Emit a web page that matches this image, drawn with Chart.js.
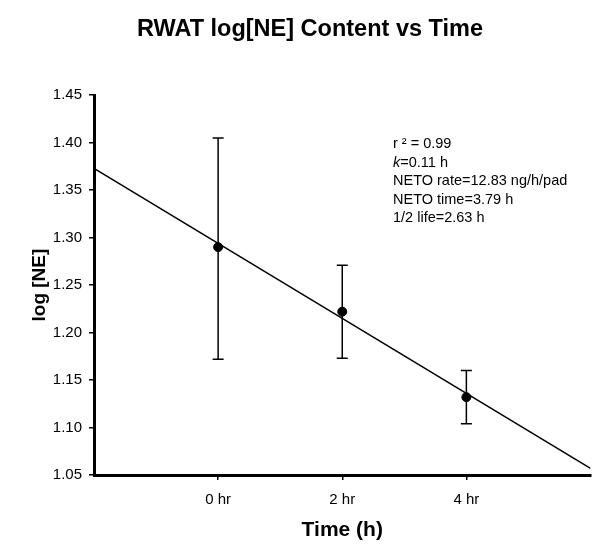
<!DOCTYPE html>
<html>
<head>
<meta charset="utf-8">
<script src="https://cdn.jsdelivr.net/npm/chart.js@4"></script>
<style>
  html, body { margin: 0; padding: 0; background: #fff; }
  #wrap { width: 596px; height: 550px; }
</style>
</head>
<body>
<div id="wrap"><canvas id="chart"></canvas></div>
<script>
// measured points (hours vs log[NE])
const times = [0, 2, 4];
const logNE = [1.290, 1.222, 1.132];
const errLow = [1.172, 1.173, 1.104];
const errHigh = [1.405, 1.271, 1.160];

// fitted line ends
const fitX = [-2, 6];
const fitY = [1.373, 1.057];

const xTicks = [0, 2, 4];
const yTicks = [1.05, 1.10, 1.15, 1.20, 1.25, 1.30, 1.35, 1.40, 1.45];

const notes = ['r \u00b2 = 0.99', 'k=0.11 h', 'NETO rate=12.83 ng/h/pad', 'NETO time=3.79 h', '1/2 life=2.63 h'];

const FONT = '"Liberation Sans", Arial, sans-serif';

const errorBars = {
    id: 'errorBars',
    afterDatasetsDraw(chart) {
        const ctx = chart.ctx;
        const xs = chart.scales.x, ys = chart.scales.y;
        ctx.save();
        ctx.strokeStyle = '#000';
        ctx.lineWidth = 1.5;
        times.forEach((t, i) => {
            const px = xs.getPixelForValue(t);
            const top = ys.getPixelForValue(errHigh[i]);
            const bot = ys.getPixelForValue(errLow[i]);
            ctx.beginPath();
            ctx.moveTo(px, top); ctx.lineTo(px, bot);
            ctx.moveTo(px - 5.5, top); ctx.lineTo(px + 5.5, top);
            ctx.moveTo(px - 5.5, bot); ctx.lineTo(px + 5.5, bot);
            ctx.stroke();
        });
        ctx.restore();
    }
};

const notesPlugin = {
    id: 'notes',
    afterDraw(chart) {
        const ctx = chart.ctx;
        const a = chart.chartArea;
        ctx.save();
        ctx.fillStyle = '#000';
        ctx.textBaseline = 'middle';
        const x = a.left + 299;
        notes.forEach((s, i) => {
            const y = 144 + i * 18.5;
            if (i === 1) {
                // italic k
                ctx.font = 'italic 14.5px ' + FONT;
                ctx.fillText('k', x, y);
                const w = ctx.measureText('k').width;
                ctx.font = '14.5px ' + FONT;
                ctx.fillText(s.slice(1), x + w, y);
            } else {
                ctx.font = '14.5px ' + FONT;
                ctx.fillText(s, x, y);
            }
        });
        ctx.restore();
    }
};

new Chart(document.getElementById('chart'), {
    type: 'scatter',
    data: {
        datasets: [{
            data: times.map((t, i) => ({x: t, y: logNE[i]})),
            backgroundColor: '#000',
            borderColor: '#000',
            pointRadius: 4.5,
            pointHoverRadius: 4.5
        }, {
            data: fitX.map((t, i) => ({x: t, y: fitY[i]})),
            showLine: true,
            borderColor: '#000',
            borderWidth: 1.5,
            pointRadius: 0
        }]
    },
    options: {
        responsive: true,
        maintainAspectRatio: false,
        animation: false,
        layout: { padding: { left: 26, right: 2, top: 0, bottom: 0 } },
        plugins: {
            legend: { display: false },
            tooltip: { enabled: false },
            title: {
                display: true,
                text: 'RWAT log[NE] Content vs Time',
                color: '#000',
                font: { family: FONT, size: 23.5, weight: 'bold' },
                padding: { top: 15, bottom: 52 }
            }
        },
        scales: {
            x: {
                type: 'linear',
                min: -2,
                max: 6,
                afterBuildTicks: (s) => { s.ticks = xTicks.map(v => ({value: v})); },
                afterFit: (s) => { s.height = 75; s.paddingRight = 0; s.paddingLeft = 0; },
                border: { color: '#000', width: 3 },
                grid: { drawOnChartArea: false, drawTicks: true, tickLength: 5, color: '#000', lineWidth: 1.5 },
                ticks: {
                    color: '#000',
                    font: { family: FONT, size: 15 },
                    padding: 11,
                    callback: (v) => v + ' hr'
                },
                title: {
                    display: true,
                    text: 'Time (h)',
                    color: '#000',
                    font: { family: FONT, size: 21, weight: 'bold' },
                    padding: { top: 0, bottom: 7 }
                }
            },
            y: {
                min: 1.05,
                max: 1.45,
                afterBuildTicks: (s) => { s.ticks = yTicks.map(v => ({value: v})); },
                afterFit: (s) => { s.width = 68; },
                border: { color: '#000', width: 3 },
                grid: { drawOnChartArea: false, drawTicks: true, tickLength: 5, color: '#000', lineWidth: 1.5 },
                ticks: {
                    color: '#000',
                    font: { family: FONT, size: 15 },
                    padding: 7,
                    callback: (v) => v.toFixed(2)
                },
                title: {
                    display: true,
                    text: 'log [NE]',
                    color: '#000',
                    font: { family: FONT, size: 19, weight: 'bold' },
                    padding: { top: 2, bottom: 0 }
                }
            }
        }
    },
    plugins: [errorBars, notesPlugin]
});
</script>
</body>
</html>
